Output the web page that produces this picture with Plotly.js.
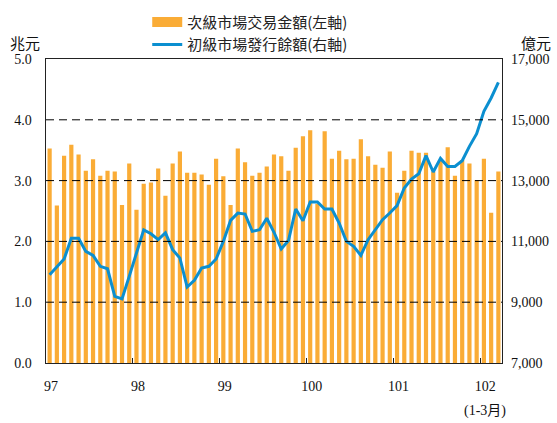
<!DOCTYPE html>
<html>
<head>
<meta charset="utf-8">
<script src="https://cdn.plot.ly/plotly-3.0.1.min.js"></script>
<style>html,body{margin:0;padding:0;background:#fff;}#chart{width:557px;height:423px;}</style>
</head>
<body>
<div id="chart"></div>
<script>
// Months 97/01 .. 102/03
const categories = [
 "97/01","97/02","97/03","97/04","97/05","97/06","97/07","97/08","97/09","97/10","97/11","97/12",
 "98/01","98/02","98/03","98/04","98/05","98/06","98/07","98/08","98/09","98/10","98/11","98/12",
 "99/01","99/02","99/03","99/04","99/05","99/06","99/07","99/08","99/09","99/10","99/11","99/12",
 "100/01","100/02","100/03","100/04","100/05","100/06","100/07","100/08","100/09","100/10","100/11","100/12",
 "101/01","101/02","101/03","101/04","101/05","101/06","101/07","101/08","101/09","101/10","101/11","101/12",
 "102/01","102/02","102/03"
];
// 次級市場交易金額 (兆元, left axis)
const secondaryTrade = [
 3.53,2.59,3.41,3.59,3.43,3.16,3.35,3.08,3.16,3.15,2.60,3.28,
 2.52,2.95,2.97,3.20,2.75,3.28,3.48,3.13,3.13,3.10,2.93,3.36,
 3.07,2.60,3.53,3.30,3.08,3.13,3.23,3.43,3.40,3.16,3.54,3.73,
 3.83,2.62,3.81,3.36,3.49,3.35,3.36,3.68,3.40,3.26,3.21,3.48,
 2.80,3.16,3.49,3.46,3.46,3.15,3.33,3.55,3.08,3.34,3.28,3.01,
 3.36,2.47,3.15
];
// 初級市場發行餘額 (億元, right axis)
const primaryOutstanding = [
 9904,10158,10420,11100,11100,10670,10540,10180,10100,9190,9110,9850,
 10620,11380,11250,11060,11280,10730,10450,9500,9720,10125,10180,10420,
 11000,11690,11930,11900,11330,11385,11760,11300,10750,11030,12066,11680,
 12296,12296,12066,12066,11605,11000,10836,10540,11056,11385,11714,11934,
 12175,12756,13052,13227,13820,13283,13730,13467,13467,13654,14126,14543,
 15277,15717,16230
];
const yearLabels = ["97","98","99","100","101","102"];
const leftTicks = [0,1,2,3,4,5];
const rightTicks = [7000,9000,11000,13000,15000,17000];
const gridLevels = [1,2,3,4];
const seriesNames = ["次級市場交易金額(左軸)","初級市場發行餘額(右軸)"];

const xIdx = categories.map((c,i)=>i);
const yearStartIdx = yearLabels.map(y => categories.indexOf(y + "/01"));
const labelPos = yearStartIdx.map(i => i + 0.2);
const boundaryTicks = yearStartIdx.slice(1).map(i => i - 0.5);

const ORANGE = '#FAAC36';
const BLUE = '#0B8FD0';
const serif = 'Liberation Serif, Times New Roman, serif';
const cjk = 'Noto Sans CJK TC, Noto Sans CJK SC, sans-serif';

const traces = [
 {type:'bar', x:xIdx, y:secondaryTrade, marker:{color:ORANGE}, showlegend:false, name:seriesNames[0], hoverinfo:'skip'},
 {type:'scatter', mode:'lines', x:[null], y:[null], line:{color:ORANGE, width:10}, name:seriesNames[0], showlegend:true},
 {type:'scatter', mode:'lines', x:xIdx, y:primaryOutstanding, yaxis:'y2', line:{color:BLUE, width:3}, name:seriesNames[1], showlegend:true}
];

const shapes = gridLevels.map(v => ({
 type:'line', xref:'paper', x0:0, x1:1, yref:'y', y0:v, y1:v,
 line:{color:'#000', width:1, dash:'8px,5px'}, layer:'above'
}));

const layout = {
 width:557, height:423,
 margin:{l:46, r:55, t:4, b:60},
 paper_bgcolor:'#fff', plot_bgcolor:'#fff',
 font:{family:serif, size:14, color:'#111'},
 bargap:0.42,
 showlegend:true,
 legend:{x:0.222, xanchor:'left', y:0.995, yanchor:'top', font:{family:cjk, size:15, color:'#222'},
   bgcolor:'rgba(0,0,0,0)', borderwidth:0, itemwidth:30, tracegroupgap:0},
 xaxis:{range:[-0.5,62.5], tickmode:'array', tickvals:labelPos, ticktext:yearLabels,
   ticks:'', showgrid:false, zeroline:false, showline:true, linecolor:'#222', linewidth:1.2, mirror:true,
   tickfont:{family:serif, size:14, color:'#111'}, ticklabelstandoff:10,
   minor:{tickmode:'array', tickvals:boundaryTicks, ticks:'inside', ticklen:5, tickwidth:1, tickcolor:'#222', showgrid:false}},
 yaxis:{domain:[0,0.8468], range:[0,5], tickmode:'array', tickvals:leftTicks, tickformat:'.1f', ticks:'', showgrid:false, zeroline:false,
   showline:true, linecolor:'#222', linewidth:1.5, tickfont:{family:serif, size:14, color:'#111'}, ticklabelstandoff:10},
 yaxis2:{range:[7000,17000], overlaying:'y', side:'right', tickmode:'array', tickvals:rightTicks, tickformat:',d',
   ticks:'', showgrid:false, zeroline:false, showline:true, linecolor:'#222', linewidth:1.2,
   tickfont:{family:serif, size:14, color:'#111'}, ticklabelstandoff:5},
 shapes:shapes,
 annotations:[
  {text:'兆元', xref:'paper', yref:'paper', x:-0.045, y:0.892, xanchor:'center', yanchor:'middle', showarrow:false, font:{family:cjk, size:15, color:'#111'}},
  {text:'億元', xref:'paper', yref:'paper', x:1.075, y:0.892, xanchor:'center', yanchor:'middle', showarrow:false, font:{family:cjk, size:15, color:'#111'}},
  {text:'(1-3月)', xref:'x', yref:'paper', x:labelPos[5], y:-0.105, xanchor:'center', yanchor:'top', showarrow:false, font:{family:serif + ', ' + cjk, size:14, color:'#111'}}
 ]
};

Plotly.newPlot('chart', traces, layout, {displayModeBar:false, staticPlot:true});
</script>
</body>
</html>
